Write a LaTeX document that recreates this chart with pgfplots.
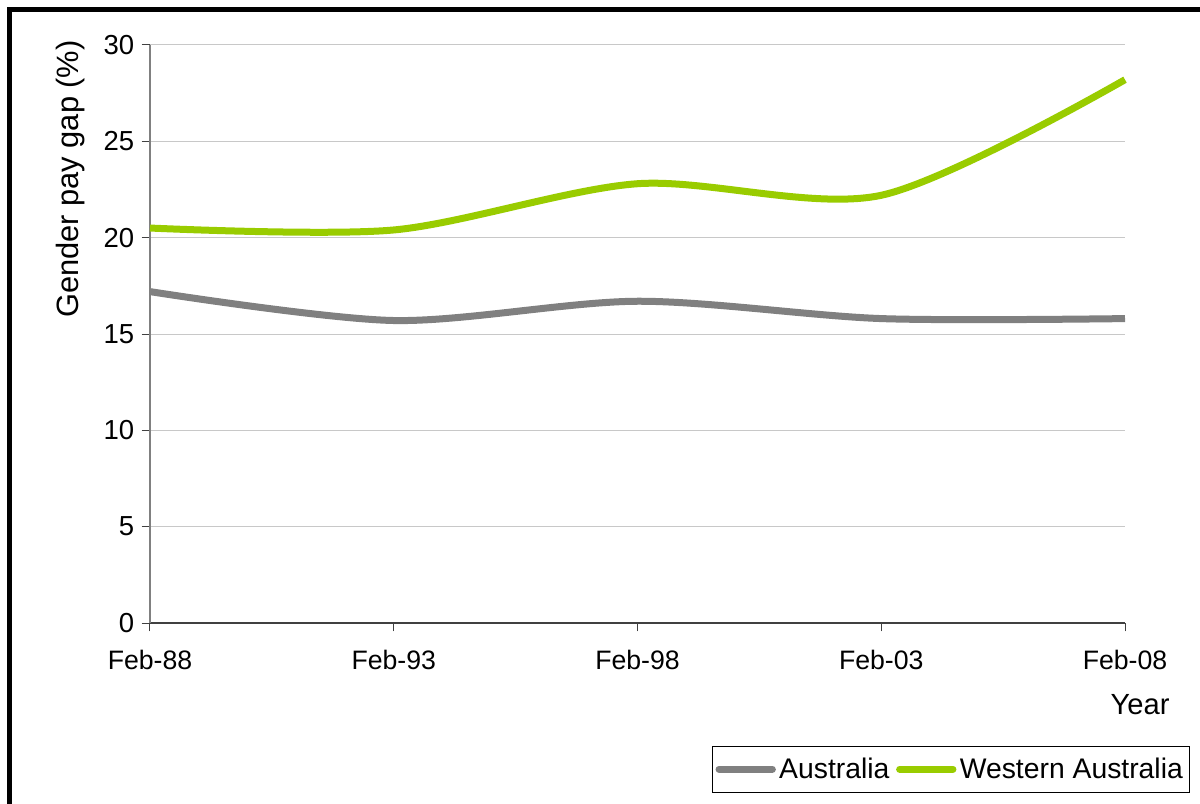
\documentclass[border=0pt]{standalone}
\usepackage{pgfplots}
\pgfplotsset{compat=1.18}
\usepackage{fontspec}
\setmainfont{Liberation Sans}

\definecolor{ausgray}{HTML}{808080}
\definecolor{wagreen}{HTML}{99CC00}
\definecolor{gridgray}{HTML}{C8C8C8}

\begin{document}
\begin{tikzpicture}
  \path[use as bounding box] (-90pt,-108pt) rectangle (630pt,373.8pt);
  \begin{axis}[
    scale only axis,
    width=585pt, height=346.8pt,
    at={(0pt,0pt)}, anchor=south west,
    xmin=0, xmax=4, ymin=0, ymax=30,
    xtick={0,1,2,3,4},
    xticklabels={Feb-88,Feb-93,Feb-98,Feb-03,Feb-08},
    ytick={0,5,...,30},
    ymajorgrids,
    grid style={gridgray, line width=0.6pt},
    axis x line*=bottom, axis y line*=left,
    x axis line style={draw=black!75, line width=0.8pt, -},
    y axis line style={draw=ausgray, line width=0.8pt, -},
    tick align=outside,
    major tick length=5pt,
    x tick style={draw=black!75, line width=0.6pt},
    y tick style={draw=black!75, line width=0.6pt},
    tick label style={font=\fontsize{16}{19}\selectfont},
    yticklabel style={font=\fontsize{16.5}{19}\selectfont, xshift=-1pt},
    /pgf/number format/assume math mode=true,
    xticklabel style={yshift=-8pt},
    xlabel={Year},
    xlabel style={at={(axis description cs:1.0154,-0.142)}, anchor=center, font=\fontsize{17.5}{20}\selectfont},
    ylabel={Gender pay gap (\%)},
    ylabel style={at={(axis description cs:-0.082,0.768)}, anchor=center, font=\fontsize{18.5}{21}\selectfont},
    legend style={at={(axis description cs:1.0667,-0.294)}, anchor=south east,
      legend columns=-1, draw=black, line width=0.6pt,
      font=\fontsize{17}{20}\selectfont, inner xsep=2pt, inner ysep=5pt,
      /tikz/every even column/.append style={column sep=2pt}},
    legend image code/.code={\draw[#1, line cap=round] (0pt,0pt) -- (32pt,0pt);},
    clip=false,
  ]
    \addplot[ausgray, line width=4.2pt, smooth] coordinates {
      (0,17.2) (1,15.7) (2,16.7) (3,15.8) (4,15.8)};
    \addplot[wagreen, line width=4.2pt, smooth] coordinates {
      (0,20.5) (1,20.4) (2,22.8) (3,22.2) (4,28.2)};
    \legend{Australia, Western Australia}
  \end{axis}
  \draw[black, line width=3pt] (-84.3pt,-110pt) -- (-84.3pt,368.1pt) -- (632pt,368.1pt);
\end{tikzpicture}
\end{document}
